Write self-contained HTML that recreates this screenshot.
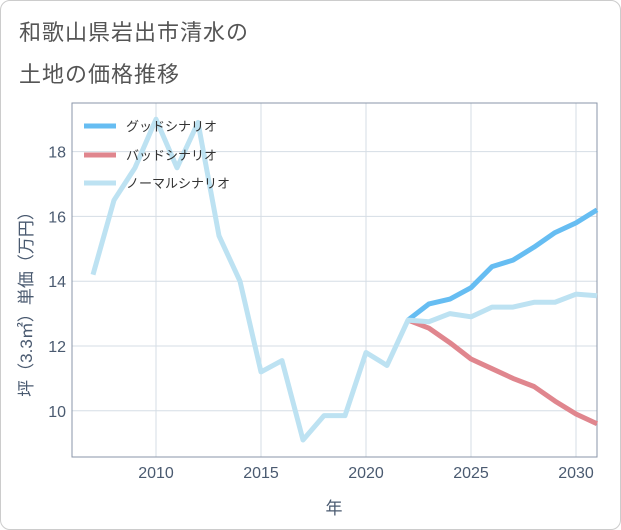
<!DOCTYPE html>
<html><head><meta charset="utf-8"><style>
body{margin:0;background:#fff;font-family:"Liberation Sans","Noto Sans CJK JP",sans-serif}
#wrap{position:relative;width:619px;height:528px;border:1px solid #ccc;border-radius:10px;background:#fff}
.t{position:absolute;left:18px;font-size:22px;color:#555;letter-spacing:1px}
</style></head><body>
<div id="wrap">
<div class="t" style="top:14px">和歌山県岩出市清水の</div>
<div class="t" style="top:56px">土地の価格推移</div>
<svg id="c" width="621" height="530" style="position:absolute;left:-1px;top:-1px"></svg>
</div>
<script>
const years=[2007,2008,2009,2010,2011,2012,2013,2014,2015,2016,2017,2018,2019,2020,2021,2022,2023,2024,2025,2026,2027,2028,2029,2030,2031];
const normal=[14.2,16.5,17.5,19.0,17.5,18.9,15.4,14.0,11.2,11.55,9.1,9.85,9.85,11.8,11.4,12.8,12.75,13.0,12.9,13.2,13.2,13.35,13.35,13.6,13.55];
const fyears=[2022,2023,2024,2025,2026,2027,2028,2029,2030,2031];
const good=[12.8,13.3,13.45,13.8,14.45,14.65,15.05,15.5,15.8,16.2];
const bad=[12.8,12.55,12.1,11.6,11.3,11.0,10.75,10.3,9.9,9.6];
const xticks=[2010,2015,2020,2025,2030];
const yticks=[10,12,14,16,18];
const L=72,R=597,T=103,B=457;
const x=v=>156+(v-2010)*21;
const y=v=>346-(v-12)*32.4;
const s=document.getElementById('c');const NS='http://www.w3.org/2000/svg';
function mk(t,a,p){const e=document.createElementNS(NS,t);for(const k in a)e.setAttribute(k,a[k]);(p||s).appendChild(e);return e;}
xticks.forEach(v=>{const g=mk('line',{x1:x(v),x2:x(v),y1:T,y2:B,stroke:'#d5dde5'});


const t=mk('text',{x:x(v),y:478,'text-anchor':'middle','font-size':16,fill:'#4a5a70'});t.textContent=v;

});
yticks.forEach(v=>{const g=mk('line',{x1:L,x2:R,y1:y(v),y2:y(v),stroke:'#d5dde5'});


const t=mk('text',{x:66,y:y(v)+6,'text-anchor':'end','font-size':16,fill:'#4a5a70'});t.textContent=v;

});
const fr=mk('rect',{x:L,y:T,width:R-L,height:B-T,fill:'none',stroke:'#8a96a8'});


function line(xs,vs,c,n){const p=mk('polyline',{points:xs.map((v,i)=>x(v)+','+y(vs[i])).join(' '),fill:'none',stroke:c,'stroke-width':5,'stroke-linejoin':'round'});

}
line(fyears,good,'#66bdf2','good-scenario-line');
line(fyears,bad,'#e0868e','bad-scenario-line');
line(years,normal,'#bde2f2','normal-scenario-line');
const leg=[['グッドシナリオ','#66bdf2',126],['バッドシナリオ','#e0868e',155],['ノーマルシナリオ','#bde2f2',183]];
leg.forEach(l=>{const a=mk('line',{x1:84,x2:116,y1:l[2],y2:l[2],stroke:l[1],'stroke-width':5});


const t=mk('text',{x:126,y:l[2]+5,'font-size':13,fill:'#333'});t.textContent=l[0];

});
const xt=mk('text',{x:334,y:514,'text-anchor':'middle','font-size':17,fill:'#4a5a70'});xt.textContent='年';


const yt=mk('text',{x:0,y:0,'text-anchor':'middle','font-size':17,fill:'#4a5a70',transform:'translate(32,300) rotate(-90)'});yt.textContent='坪（3.3㎡）単価（万円）';


</script>
</body></html>
